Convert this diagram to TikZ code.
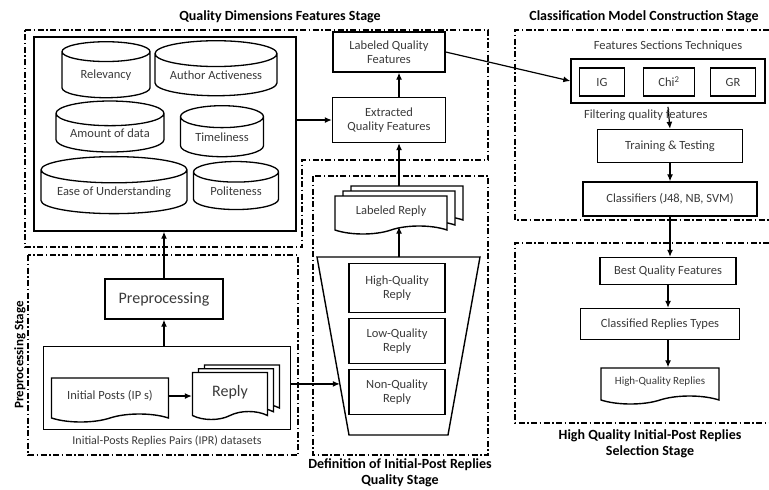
\documentclass[tikz,border=0pt]{standalone}
\usepackage{fontspec}
\setmainfont{Carlito}
\usepackage{tikz}
\usetikzlibrary{arrows.meta,positioning,shapes.geometric,shapes.symbols,shadows,calc}
\definecolor{Ink}{HTML}{3A3A3A}

\begin{document}
\begin{tikzpicture}[x=1pt,y=-1pt,>={Latex[length=7pt,width=6pt]},
  every node/.style={font=\fontsize{12.5}{14.5}\selectfont,text=Ink,align=center,inner sep=0pt},
  box/.style={draw=black,line width=1.4pt},
  stage/.style={line width=1.1pt,dash pattern=on 6pt off 2.5pt on 1.5pt off 2.5pt},
  drum/.style={draw=black,line width=1.3pt,cylinder,shape border rotate=90,aspect=#1},
  doc/.style={draw=black,line width=1.4pt,tape,tape bend top=none,tape bend height=8pt,fill=white},
  docs/.style={doc,double copy shadow={shadow xshift=#1,shadow yshift=#1/1.6,draw=black,fill=white,line width=1.4pt}},
  title/.style={font=\fontsize{14}{15.5}\selectfont\bfseries,text=black},
  link/.style={->,line width=1.2pt}]
  \useasboundingbox (0,0) rectangle (769,490);
  % stage frames
  \draw[stage] (25,30) -- (488,30) -- (488,160) -- (302,160) -- (302,247) -- (25,247) -- cycle;
  \draw[stage] (28,255) rectangle (298,455);
  \draw[stage] (313,176) rectangle (488,455);
  \draw[stage] (769,30) -- (515,30) -- (515,220) -- (769,220);
  \draw[stage] (769,243) -- (515,243) -- (515,423) -- (769,423);
  \node[title] (tqd) at (280,17) {Quality Dimensions Features Stage};
  \node[title] (tcm) at (644,17) {Classification Model Construction Stage};
  \node[title] (tdef) at (400,473) {Definition of Initial-Post Replies\\Quality Stage};
  \node[title] (thq) at (650,444) {High Quality Initial-Post Replies\\Selection Stage};
  \node[title,font=\fontsize{13}{15}\selectfont\bfseries,rotate=90] (tpre) at (20,355) {Preprocessing Stage};
  % quality dimensions
  \node[box,minimum width=262pt,minimum height=194pt] (qdbox) at (165,134) {};
  \node[drum=0.39,minimum width=88pt,minimum height=56pt] (rel) at (106,75) {Relevancy};
  \node[drum=0.28,minimum width=122pt,minimum height=55pt] (auth) at (216,75) {Author Activeness};
  \node[drum=0.31,minimum width=108pt,minimum height=51pt] (amt) at (110,133) {Amount of data};
  \node[drum=0.41,minimum width=83pt,minimum height=51pt] (time) at (222,137) {Timeliness};
  \node[drum=0.23,minimum width=146pt,minimum height=57pt] (ease) at (114,192) {Ease of Understanding};
  \node[drum=0.4,minimum width=85pt,minimum height=48pt] (pol) at (236,191) {Politeness};
  \node[box,minimum width=113pt,minimum height=45pt] (extr) at (389,120) {Extracted\\Quality Features};
  \node[box,minimum width=112pt,minimum height=40pt] (lqf) at (389,52) {Labeled Quality\\Features};
  % preprocessing
  \node[box,minimum width=118pt,minimum height=40pt,font=\fontsize{16}{18}\selectfont] (prep) at (164,299) {Preprocessing};
  \node[box,minimum width=247pt,minimum height=83pt] (ipr) at (167,388) {};
  \node[below=5pt of ipr,font=\fontsize{12}{14}\selectfont] (iprl) {Initial-Posts Replies Pairs (IPR) datasets};
  \node[doc,minimum width=117pt,minimum height=44pt] (ip) at (110,396) {Initial Posts (IP s)};
  \node[docs=6pt,minimum width=75pt,minimum height=47pt,font=\fontsize{16}{18}\selectfont] (rep) at (230,392) {Reply};
  % reply quality definition
  \coordinate (ftop) at (399,257);
  \draw[line width=1.4pt] (317,257) -- (480,257) -- (448,435) -- (349,435) -- coordinate[pos=0.287] (fin) cycle;
  \node[box,minimum width=96pt,minimum height=49pt] (hq) at (397,288) {High-Quality\\Reply};
  \node[box,minimum width=96pt,minimum height=45pt] (lq) at (397,341) {Low-Quality\\Reply};
  \node[box,minimum width=96pt,minimum height=45pt] (nq) at (397,392) {Non-Quality\\Reply};
  \node[docs=8pt,minimum width=112pt,minimum height=38pt] (lrep) at (391,211) {Labeled Reply};
  % classification model
  \node[box,minimum width=194pt,minimum height=44pt] (fst) at (668,81) {};
  \node[above=7pt of fst] (fstl) {Features Sections Techniques};
  \node[box,minimum width=45pt,minimum height=28pt] (ig) at (602,82) {IG};
  \node[box,minimum width=51pt,minimum height=28pt] (chi) at (669,82) {Chi\textsuperscript{2}};
  \node[box,minimum width=45pt,minimum height=28pt] (gr) at (733,82) {GR};
  \node[box,minimum width=145pt,minimum height=33pt] (train) at (670,146) {Training \& Testing};
  \node[box,minimum width=174pt,minimum height=34pt] (clf) at (670,199) {Classifiers (J48, NB, SVM)};
  % selection
  \node[box,minimum width=136pt,minimum height=27pt] (best) at (668,271) {Best Quality Features};
  \node[box,minimum width=159pt,minimum height=31pt] (ctype) at (660,324) {Classified Replies Types};
  \node[doc,minimum width=118pt,minimum height=36pt,font=\fontsize{11}{13}\selectfont] (hqr) at (660,382) {High-Quality Replies};
  % links
  \draw[link] (qdbox.east |- extr.west) -- (extr.west);
  \draw[link] (extr.north -| ftop) -- (ftop |- lqf.south);
  \draw[link] ($(lrep.north -| ftop)+(0,-9)$) -- (ftop |- extr.south);
  \draw[link] (ftop) -- (ftop |- lrep.south);
  \draw[link] (prep.north) -- (prep.north |- qdbox.south);
  \draw[link] (prep.south |- ipr.north) -- (prep.south);
  \draw[link] (ip.east) -- (ip.east -| rep.west);
  \draw[link] (ipr.east |- fin) -- (fin);
  \draw[link] (lqf.east) -- (fst.west);
  \draw[link] (fst.south |- train.north) ++(0,-22) -- node[pos=0.4,xshift=-23pt] (filt) {Filtering quality features} (train.north);
  \draw[link] (train.south) -- (clf.north);
  \draw[link] (clf.south) -- (clf.south |- best.north);
  \draw[link] (best.south) -- (best.south |- ctype.north);
  \draw[link] (best.south |- ctype.south) -- (best.south |- hqr.north);
\end{tikzpicture}
\end{document}
